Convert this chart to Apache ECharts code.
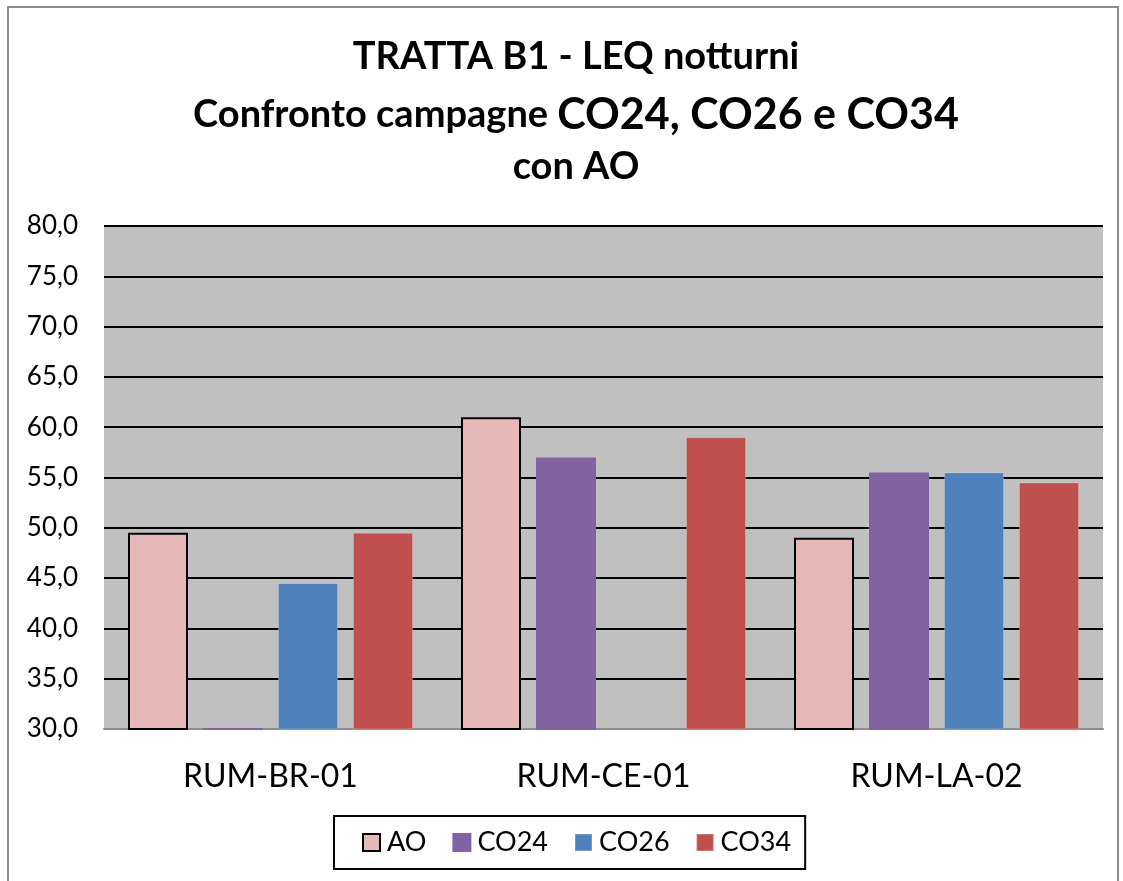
<!DOCTYPE html>
<html>
<head>
<meta charset="utf-8">
<script src="https://cdn.jsdelivr.net/npm/echarts@6/dist/echarts.min.js"></script>
<style>
  html, body { margin: 0; padding: 0; background: #fff; }
  #chart { width: 1123px; height: 881px; }
</style>
</head>
<body>
<div id="chart"></div>
<script>
const categories = ['RUM-BR-01', 'RUM-CE-01', 'RUM-LA-02'];
const seriesNames = ['AO', 'CO24', 'CO26', 'CO34'];
const aoValues = [49.5, 61.0, 49.0];
const co24Values = [30.1, 57.0, 55.5];
const co26Values = [44.5, null, 55.5];
const co34Values = [49.5, 59.0, 54.5];
const yTicks = [30, 35, 40, 45, 50, 55, 60, 65, 70, 75, 80];

const colors = ['#e6b9b8', '#8064a2', '#4f81bd', '#c0504d'];
const allValues = [aoValues, co24Values, co26Values, co34Values];

const chart = echarts.init(document.getElementById('chart'));

const font = 'Lato, "Open Sans", sans-serif';

const series = seriesNames.map((name, i) => ({
  name,
  type: 'bar',
  data: allValues[i],
  barWidth: 60,
  barGap: '25%',
  itemStyle: i === 0
    ? { color: colors[i], borderColor: '#000', borderWidth: 2 }
    : { color: colors[i], borderColor: i === 1 ? colors[i] : 'rgba(255,255,255,0.2)', borderWidth: i === 1 ? 2 : 1 },
  emphasis: { disabled: true },
  animation: false,
}));

chart.setOption({
  animation: false,
  title: {
    text: '{l1|TRATTA B1 - LEQ notturni}\n{a|Confronto campagne }{b|CO24, CO26 e CO34}\n{l3|con AO}',
    left: 571,
    textAlign: 'center',
    top: 22,
    textStyle: {
      fontFamily: font,
      rich: {
        l1: { fontFamily: font, fontSize: 38, fontWeight: 'bold', color: '#000', lineHeight: 60 },
        a: { fontFamily: font, fontSize: 38, fontWeight: 'bold', color: '#000', lineHeight: 56 },
        b: { fontFamily: font, fontSize: 43, fontWeight: 'bold', color: '#000', lineHeight: 56 },
        l3: { fontFamily: font, fontSize: 38, fontWeight: 'bold', color: '#000', lineHeight: 48 },
      },
    },
  },
  graphic: [{
    type: 'rect',
    shape: { x: 8, y: 7, width: 1110, height: 900 },
    style: { fill: 'none', stroke: '#8c8c8c', lineWidth: 2 },
    silent: true,
  }],
  legend: {
    data: seriesNames,
    left: 334,
    top: 816,
    padding: [13, 14, 13, 28],
    borderColor: '#000',
    borderWidth: 2,
    itemWidth: 17,
    itemHeight: 17,
    itemGap: 26,
    icon: 'rect',
    textStyle: { fontFamily: font, fontSize: 27, color: '#000', padding: [0, 0, 0, 2] },
  },
  grid: {
    left: 104,
    right: 20,
    top: 226,
    bottom: 152,
    show: true,
    backgroundColor: '#c0c0c0',
    borderWidth: 0,
  },
  xAxis: {
    type: 'category',
    data: categories,
    axisLine: { show: true, lineStyle: { color: '#8c8c8c', width: 2 } },
    axisTick: { show: false },
    axisLabel: { fontFamily: font, fontSize: 32, color: '#000', margin: 32 },
  },
  yAxis: {
    type: 'value',
    min: yTicks[0],
    max: yTicks[yTicks.length - 1],
    interval: yTicks[1] - yTicks[0],
    axisLine: { show: false },
    axisTick: { show: false },
    splitLine: { lineStyle: { color: '#000', width: 2 } },
    axisLabel: {
      fontFamily: font,
      fontSize: 26,
      color: '#000',
      margin: 26,
      formatter: (v) => v.toFixed(1).replace('.', ','),
    },
  },
  series,
});
</script>
</body>
</html>
